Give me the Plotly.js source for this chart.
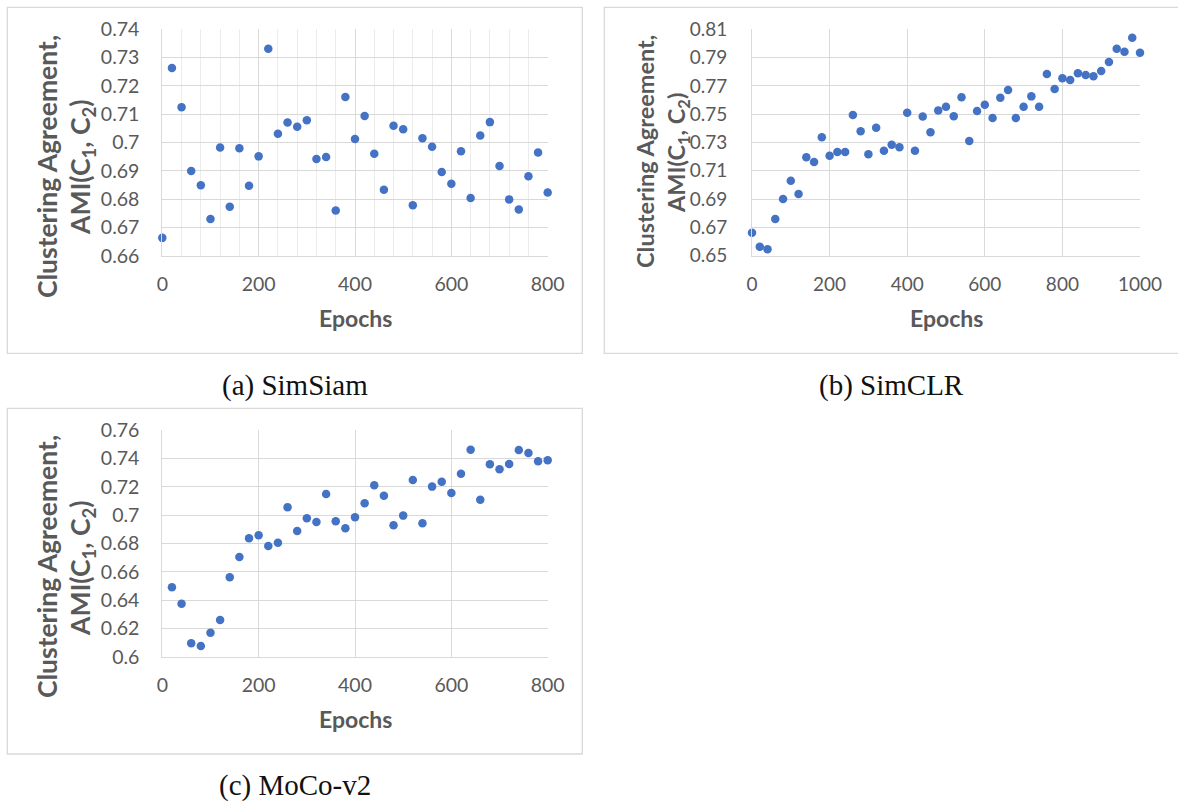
<!DOCTYPE html>
<html>
<head>
<meta charset="utf-8">
<script src="https://cdn.plot.ly/plotly-3.0.1.min.js"></script>
<style>
  html, body { margin: 0; padding: 0; background: #ffffff; }
  #chart { width: 1178px; height: 801px; }
</style>
</head>
<body>
<div id="chart"></div>
<script>
// Epoch checkpoints for each method
const epochsSimSiam = [0, 20, 40, 60, 80, 100, 120, 140, 160, 180, 200, 220, 240, 260, 280, 300, 320, 340, 360, 380, 400,
  420, 440, 460, 480, 500, 520, 540, 560, 580, 600, 620, 640, 660, 680, 700, 720, 740, 760, 780, 800];
const epochsSimCLR = [0, 20, 40, 60, 80, 100, 120, 140, 160, 180, 200, 220, 240, 260, 280, 300, 320, 340, 360, 380, 400,
  420, 440, 460, 480, 500, 520, 540, 560, 580, 600, 620, 640, 660, 680, 700, 720, 740, 760, 780, 800,
  820, 840, 860, 880, 900, 920, 940, 960, 980, 1000];
const epochsMoCo = [20, 40, 60, 80, 100, 120, 140, 160, 180, 200, 220, 240, 260, 280, 300, 320, 340, 360, 380, 400,
  420, 440, 460, 480, 500, 520, 540, 560, 580, 600, 620, 640, 660, 680, 700, 720, 740, 760, 780, 800];

// AMI(C1, C2) between clusterings at each checkpoint
const amiSimSiam = [0.6663, 0.7263, 0.7125, 0.6899, 0.6849, 0.6730, 0.6982, 0.6773, 0.6980, 0.6847, 0.6951,
  0.7331, 0.7031, 0.7071, 0.7056, 0.7079, 0.6942, 0.6949, 0.6760, 0.7161, 0.7012,
  0.7094, 0.6960, 0.6833, 0.7059, 0.7047, 0.6778, 0.7015, 0.6985, 0.6896, 0.6854,
  0.6969, 0.6804, 0.7025, 0.7072, 0.6917, 0.6799, 0.6763, 0.6881, 0.6965, 0.6823];
const amiSimCLR = [0.6663, 0.6564, 0.6545, 0.6759, 0.6901, 0.7030, 0.6936, 0.7195, 0.7162, 0.7337, 0.7207,
  0.7233, 0.7233, 0.7494, 0.7379, 0.7217, 0.7405, 0.7242, 0.7284, 0.7267, 0.7511,
  0.7242, 0.7483, 0.7372, 0.7527, 0.7553, 0.7485, 0.7619, 0.7311, 0.7523, 0.7567,
  0.7473, 0.7617, 0.7671, 0.7473, 0.7553, 0.7626, 0.7553, 0.7784, 0.7678, 0.7754,
  0.7742, 0.7789, 0.7777, 0.7768, 0.7805, 0.7869, 0.7963, 0.7942, 0.8041, 0.7935];
const amiMoCo = [0.6490, 0.6375, 0.6095, 0.6076, 0.6170, 0.6259, 0.6561, 0.6705, 0.6837, 0.6858,
  0.6782, 0.6806, 0.7057, 0.6889, 0.6978, 0.6952, 0.7150, 0.6957, 0.6907, 0.6985,
  0.7084, 0.7211, 0.7138, 0.6929, 0.6997, 0.7249, 0.6943, 0.7202, 0.7237, 0.7157,
  0.7293, 0.7463, 0.7110, 0.7360, 0.7324, 0.7362, 0.7461, 0.7440, 0.7381, 0.7388];

// Tick values and labels
const xTicks800 = [0, 200, 400, 600, 800];
const xTicks1000 = [0, 200, 400, 600, 800, 1000];
const yTicksSimSiam = [0.66, 0.67, 0.68, 0.69, 0.70, 0.71, 0.72, 0.73, 0.74];
const yLabelsSimSiam = ['0.66', '0.67', '0.68', '0.69', '0.7', '0.71', '0.72', '0.73', '0.74'];
const yTicksSimCLR = [0.65, 0.67, 0.69, 0.71, 0.73, 0.75, 0.77, 0.79, 0.81];
const yLabelsSimCLR = ['0.65', '0.67', '0.69', '0.71', '0.73', '0.75', '0.77', '0.79', '0.81'];
const yTicksMoCo = [0.60, 0.62, 0.64, 0.66, 0.68, 0.70, 0.72, 0.74, 0.76];
const yLabelsMoCo = ['0.6', '0.62', '0.64', '0.66', '0.68', '0.7', '0.72', '0.74', '0.76'];

const captions = ['(a) SimSiam', '(b) SimCLR', '(c) MoCo-v2'];
const xTitle = 'Epochs';
const yTitleLine1 = 'Clustering Agreement,';
const yTitleLine2 = 'AMI(C<sub>1</sub>, C<sub>2</sub>)';

const W = 1178, H = 801;
const px = v => v / W;
const py = v => 1 - v / H;

const gray = '#595959';
const grid = '#d9d9d9';
const dot = '#4472c4';
const sans = 'Lato, "Open Sans", sans-serif';

function series(x, y, xa, ya) {
  return {
    type: 'scatter', mode: 'markers', x: x, y: y, xaxis: xa, yaxis: ya,
    marker: { color: dot, size: 8.5 }, cliponaxis: false, hoverinfo: 'x+y'
  };
}

const data = [
  series(epochsSimSiam, amiSimSiam, 'x', 'y'),
  series(epochsSimCLR, amiSimCLR, 'x2', 'y2'),
  series(epochsMoCo, amiMoCo, 'x3', 'y3')
];

function xAxis(domain, range, ticks, anchor, size, minor) {
  const ax = {
    domain: domain, range: range, anchor: anchor,
    tickvals: ticks, ticktext: ticks.map(String),
    showgrid: true, gridcolor: grid, gridwidth: 1,
    showline: true, linecolor: grid, linewidth: 1, mirror: false,
    zeroline: false, ticks: '', ticklabelstandoff: 11,
    tickfont: { family: sans, size: size, color: gray }
  };
  if (minor) ax.minor = { dtick: 40, tick0: 0, showgrid: true, gridcolor: '#ececec', gridwidth: 1, ticks: '' };
  return ax;
}
function yAxis(domain, range, ticks, labels, anchor, size, standoff) {
  return {
    domain: domain, range: range, anchor: anchor,
    tickvals: ticks, ticktext: labels,
    showgrid: true, gridcolor: grid, gridwidth: 1,
    showline: true, linecolor: grid, linewidth: 1, mirror: false,
    zeroline: false, ticks: '', ticklabelstandoff: standoff,
    tickfont: { family: sans, size: size, color: gray }
  };
}

// Plot areas in pixels
const A = { l: 162.3, r: 547.7, t: 29.3, b: 255.7 };
const B = { l: 752, r: 1140, t: 29.3, b: 255.7 };
const C = { l: 162.3, r: 547.7, t: 430.3, b: 656.7 };
const dom = p => ({ x: [px(p.l), px(p.r)], y: [py(p.b), py(p.t)] });

const dA = dom(A), dB = dom(B), dC = dom(C);

const layout = {
  width: W, height: H,
  margin: { l: 0, r: 0, t: 0, b: 0 },
  paper_bgcolor: '#ffffff', plot_bgcolor: '#ffffff',
  showlegend: false,
  xaxis: xAxis(dA.x, [0, 800], xTicks800, 'y', 19.5, true),
  yaxis: yAxis(dA.y, [0.66, 0.74], yTicksSimSiam, yLabelsSimSiam, 'x', 19.5, 18),
  xaxis2: xAxis(dB.x, [0, 1000], xTicks1000, 'y2', 19, false),
  yaxis2: yAxis(dB.y, [0.65, 0.81], yTicksSimCLR, yLabelsSimCLR, 'x2', 19, 20),
  xaxis3: xAxis(dC.x, [0, 800], xTicks800, 'y3', 19.5, false),
  yaxis3: yAxis(dC.y, [0.60, 0.76], yTicksMoCo, yLabelsMoCo, 'x3', 19.5, 18),
  shapes: [
    { type: 'rect', xref: 'paper', yref: 'paper', x0: px(7.3), x1: px(582.3), y0: py(353.3), y1: py(7.3), line: { color: grid, width: 1.3 } },
    { type: 'rect', xref: 'paper', yref: 'paper', x0: px(604.3), x1: px(1182), y0: py(353.3), y1: py(7.3), line: { color: grid, width: 1.3 } },
    { type: 'rect', xref: 'paper', yref: 'paper', x0: px(7.3), x1: px(582.3), y0: py(754), y1: py(408.3), line: { color: grid, width: 1.3 } }
  ],
  annotations: []
};

function addText(text, x, y, size, opts) {
  layout.annotations.push(Object.assign({
    text: text, xref: 'paper', yref: 'paper', x: px(x), y: py(y),
    xanchor: 'center', yanchor: 'middle', showarrow: false,
    font: { family: sans, size: size, color: gray, weight: 'bold' }
  }, opts || {}));
}

// Axis titles
addText(xTitle, 355, 318, 23);
addText(xTitle, 946, 318, 23);
addText(xTitle, 355, 719, 23);
addText('<b>' + yTitleLine1 + '</b>', 47, 167, 26.5, { textangle: -90 });
addText('<b>' + yTitleLine2 + '</b>', 82, 167, 26.5, { textangle: -90 });
addText('<b>' + yTitleLine1 + '</b>', 645, 152, 23.5, { textangle: -90 });
addText('<b>' + yTitleLine2 + '</b>', 678, 153, 23.5, { textangle: -90 });
addText('<b>' + yTitleLine1 + '</b>', 47, 567, 26.5, { textangle: -90 });
addText('<b>' + yTitleLine2 + '</b>', 82, 568, 26.5, { textangle: -90 });

// Sub-figure captions
const serif = { family: '"Liberation Serif", "DejaVu Serif", serif', size: 29, color: '#111111' };
addText(captions[0], 295, 385, 29, { font: serif });
addText(captions[1], 891, 385, 29, { font: serif });
addText(captions[2], 295, 785, 29, { font: serif });

Plotly.newPlot('chart', data, layout, { displayModeBar: false, staticPlot: true });
</script>
</body>
</html>
